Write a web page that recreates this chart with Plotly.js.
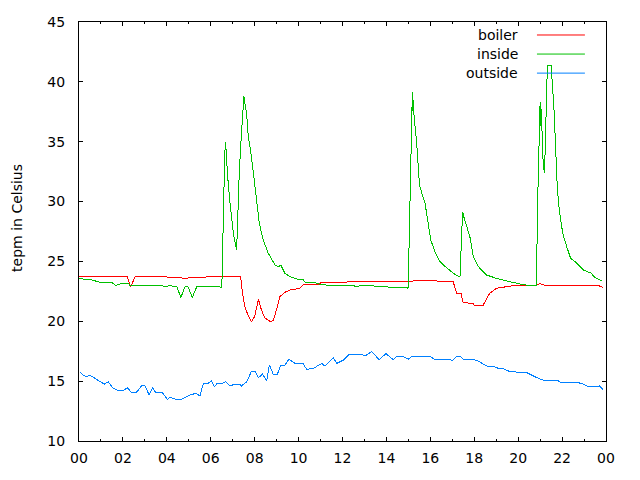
<!DOCTYPE html>
<html>
<head>
<meta charset="utf-8">
<script src="https://cdn.plot.ly/plotly-3.0.1.min.js"></script>
<style>
  body { margin: 0; background: #fff; }
  #chart { width: 640px; height: 480px; }
  #chart path.js-line { shape-rendering: crispEdges; }
</style>
</head>
<body>
<div id="chart"></div>
<script>
// hours of the day (decimal) and temperatures

const boilerHours = [0.0, 2.2, 2.34, 2.55, 3.0, 3.3, 4.0, 4.8, 5.3, 5.6, 6.0, 6.5, 7.36, 7.45, 7.55, 7.7, 7.86, 8.0, 8.17, 8.3, 8.45, 8.7, 8.85, 9.0, 9.15, 9.35, 9.61, 10.06, 10.2, 10.6, 10.9, 11.0, 11.4, 12.4, 15.0, 15.3, 16.2, 16.45, 17.04, 17.2, 17.4, 17.5, 17.95, 18.0, 18.4, 18.7, 19.0, 19.5, 19.9, 20.84, 21.0, 21.2, 21.9, 23.7, 23.85];
const boilerTemp = [23.78, 23.78, 22.84, 23.7, 23.7, 23.75, 23.7, 23.6, 23.65, 23.7, 23.72, 23.72, 23.72, 22.33, 21.22, 20.5, 19.96, 20.4, 21.83, 21.0, 20.3, 20.0, 20.05, 21.0, 22.05, 22.4, 22.61, 22.75, 23.05, 23.1, 23.1, 23.2, 23.2, 23.3, 23.3, 23.4, 23.4, 23.3, 23.3, 22.33, 22.3, 21.55, 21.5, 21.33, 21.33, 22.33, 22.75, 22.9, 23.0, 23.0, 23.15, 23.0, 22.95, 22.95, 22.85];

const insideHours = [0.0, 0.4, 0.6, 0.96, 1.5, 1.64, 1.72, 1.94, 2.25, 2.32, 3.76, 3.9, 4.1, 4.45, 4.64, 4.83, 4.96, 5.16, 5.36, 6.42, 6.5, 6.54, 6.57, 6.62, 6.66, 6.7, 6.77, 6.88, 6.95, 7.03, 7.14, 7.18, 7.23, 7.3, 7.39, 7.44, 7.48, 7.51, 7.57, 7.64, 7.71, 7.75, 7.8, 7.91, 8.01, 8.12, 8.21, 8.35, 8.39, 8.62, 8.93, 9.08, 9.19, 9.38, 9.61, 10.0, 10.2, 10.3, 10.7, 10.97, 11.43, 12.5, 12.64, 12.8, 13.4, 13.48, 14.24, 14.3, 14.92, 14.99, 15.07, 15.15, 15.18, 15.21, 15.23, 15.26, 15.38, 15.48, 15.53, 15.76, 15.91, 16.02, 16.21, 16.44, 16.6, 16.89, 17.05, 17.32, 17.35, 17.47, 17.52, 17.8, 17.96, 18.19, 18.57, 19.02, 19.63, 20.08, 20.54, 20.84, 20.87, 20.92, 20.99, 21.0, 21.03, 21.06, 21.1, 21.14, 21.2, 21.27, 21.33, 21.5, 21.55, 21.63, 21.71, 21.78, 21.87, 22.03, 22.21, 22.39, 22.59, 22.97, 23.35, 23.45, 23.8];
const insideTemp = [23.6, 23.45, 23.45, 23.25, 23.25, 23.03, 23.03, 23.17, 23.17, 22.97, 22.97, 22.9, 22.97, 22.9, 22.0, 22.9, 22.9, 22.0, 22.88, 22.88, 22.8, 24.98, 28.88, 32.92, 35.0, 34.3, 32.08, 29.85, 28.7, 27.35, 26.24, 25.97, 28.7, 32.5, 35.42, 36.81, 38.2, 38.82, 38.05, 37.23, 35.4, 35.0, 34.45, 32.9, 31.24, 29.57, 28.2, 27.07, 26.79, 25.68, 24.7, 24.56, 24.7, 24.0, 23.72, 23.5, 23.5, 23.25, 23.25, 23.1, 22.98, 22.98, 22.88, 22.98, 22.98, 22.88, 22.88, 22.84, 22.84, 22.75, 29.02, 37.1, 39.18, 37.6, 38.5, 37.1, 34.87, 32.08, 31.2, 29.85, 28.2, 26.79, 25.81, 24.98, 24.7, 24.28, 24.0, 23.72, 23.72, 29.16, 28.75, 27.07, 25.4, 24.56, 23.86, 23.58, 23.3, 23.11, 22.97, 22.97, 28.74, 32.5, 36.4, 38.34, 36.3, 37.7, 34.87, 33.2, 32.35, 36.8, 41.4, 41.4, 40.3, 37.8, 34.3, 31.24, 29.3, 27.35, 26.23, 25.26, 24.98, 24.28, 24.0, 23.72, 23.39];

const outsideHours = [0.05, 0.2, 0.36, 0.5, 0.73, 0.96, 1.15, 1.33, 1.56, 1.8, 2.0, 2.2, 2.4, 2.6, 2.85, 3.0, 3.2, 3.35, 3.5, 3.8, 4.02, 4.14, 4.37, 4.68, 5.05, 5.32, 5.51, 5.66, 5.84, 6.04, 6.16, 6.3, 6.55, 6.67, 6.88, 7.1, 7.3, 7.4, 7.64, 7.86, 8.01, 8.17, 8.36, 8.55, 8.67, 8.85, 9.03, 9.19, 9.38, 9.56, 9.84, 10.2, 10.37, 10.67, 11.05, 11.2, 11.58, 11.74, 12.04, 12.31, 12.87, 13.02, 13.33, 13.67, 13.98, 14.31, 14.5, 14.7, 15.0, 15.2, 15.98, 16.2, 16.4, 16.74, 17.04, 17.2, 17.35, 17.5, 17.96, 18.18, 18.57, 18.87, 19.1, 19.3, 19.63, 19.86, 20.0, 20.4, 20.54, 20.84, 21.14, 21.75, 21.98, 22.74, 22.97, 23.2, 23.58, 23.7, 23.85];
const outsideTemp = [15.73, 15.5, 15.37, 15.5, 15.23, 14.95, 14.75, 14.95, 14.4, 14.2, 14.2, 14.45, 14.03, 14.03, 14.6, 14.6, 13.84, 14.45, 14.03, 14.03, 13.48, 13.65, 13.5, 13.5, 13.84, 13.98, 13.76, 14.78, 14.78, 15.03, 14.53, 14.82, 14.82, 14.95, 14.6, 14.75, 14.75, 14.6, 14.95, 15.84, 15.84, 15.28, 15.6, 15.0, 16.34, 15.56, 15.56, 16.34, 16.34, 16.84, 16.48, 16.48, 15.98, 16.06, 16.48, 16.26, 16.98, 16.48, 16.76, 17.26, 17.26, 17.1, 17.46, 16.8, 17.3, 16.8, 17.1, 17.1, 16.84, 17.1, 17.1, 16.8, 16.8, 16.76, 16.76, 17.1, 17.1, 16.8, 16.8, 16.68, 16.26, 16.26, 16.06, 16.06, 15.79, 15.79, 15.7, 15.7, 15.56, 15.3, 15.09, 15.09, 14.87, 14.87, 14.76, 14.53, 14.53, 14.6, 14.31];

const seriesNames = ['boiler', 'inside', 'outside'];
const seriesColors = ['#ff0000', '#00c000', '#0080ff'];

const xTickVals = [0, 2, 4, 6, 8, 10, 12, 14, 16, 18, 20, 22, 24];
const xTickText = ['00', '02', '04', '06', '08', '10', '12', '14', '16', '18', '20', '22', '00'];
const xMinorVals = [1, 3, 5, 7, 9, 11, 13, 15, 17, 19, 21, 23];

const font = {family: 'DejaVu Sans', size: 14, color: '#000'};

const xs = [boilerHours, insideHours, outsideHours];
const ys = [boilerTemp, insideTemp, outsideTemp];

const data = seriesNames.map((name, i) => ({
    x: xs[i],
    y: ys[i],
    name: name,
    type: 'scatter',
    mode: 'lines',
    line: {color: seriesColors[i], width: 1},
    showlegend: false
}));

// gnuplot style key: text on the left, sample line on the right
const legendTop = 0.969;
const legendStep = 0.0455;
const annotations = seriesNames.map((name, i) => ({
    xref: 'paper', yref: 'paper',
    x: 0.8368, y: legendTop - i * legendStep,
    xanchor: 'right', yanchor: 'middle',
    text: name, showarrow: false, font: font
}));
annotations.push({
    xref: 'paper', yref: 'paper',
    x: -0.118, y: 0.532,
    xanchor: 'center', yanchor: 'middle',
    text: 'tepm in Celsius', textangle: -90,
    showarrow: false, font: font
});

const shapes = seriesNames.map((name, i) => ({
    type: 'line', xref: 'paper', yref: 'paper',
    x0: 0.869, x1: 0.960,
    y0: legendTop - i * legendStep, y1: legendTop - i * legendStep,
    line: {color: seriesColors[i], width: 1}
}));

const layout = {
    width: 640,
    height: 480,
    margin: {l: 79, r: 34, t: 22, b: 39},
    paper_bgcolor: '#fff',
    plot_bgcolor: '#fff',
    font: font,
    xaxis: {
        range: [0, 24],
        tickmode: 'array',
        tickvals: xTickVals,
        ticktext: xTickText,
        ticks: 'inside',
        ticklen: 4,
        tickcolor: '#000',
        minor: {tickmode: 'array', tickvals: xMinorVals, ticks: 'inside', ticklen: 2, tickcolor: '#000'},
        showline: true,
        linecolor: '#000',
        linewidth: 1,
        mirror: 'allticks',
        showgrid: false,
        zeroline: false,
        ticklabelstandoff: 4
    },
    yaxis: {
        range: [10, 45],
        tickmode: 'linear',
        tick0: 10,
        dtick: 5,
        ticks: 'inside',
        ticklen: 4,
        tickcolor: '#000',
        showline: true,
        linecolor: '#000',
        linewidth: 1,
        mirror: 'allticks',
        showgrid: false,
        zeroline: false,
        ticklabelstandoff: 10
    },
    annotations: annotations,
    shapes: shapes
};

Plotly.newPlot('chart', data, layout, {displayModeBar: false, staticPlot: true});
</script>
</body>
</html>
